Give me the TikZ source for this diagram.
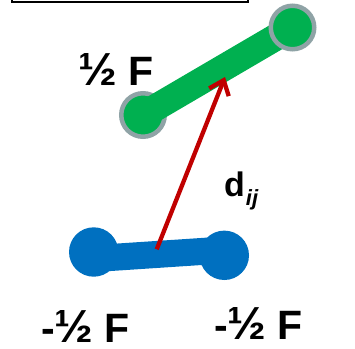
\documentclass[tikz,border=0pt]{standalone}
\usepackage{fontspec}
\setmainfont{Liberation Sans}
\usetikzlibrary{arrows.meta}
\definecolor{grn}{HTML}{00B050}
\definecolor{ringgray}{HTML}{8FA3A6}
\definecolor{blu}{HTML}{0070C0}
\definecolor{rd}{HTML}{C00000}
\newcommand{\hlf}{\scalebox{1.13}{½}}
\tikzset{
  gball/.style={circle, fill=grn, draw=ringgray, line width=4.5pt, minimum size=43.5pt, inner sep=0pt},
  bball/.style={circle, fill=blu, minimum size=49.4pt, inner sep=0pt},
  gbar/.style={grn, line width=27pt},
  bbar/.style={blu, line width=27pt},
  darrow/.style={rd, line width=4.3pt, -{Straight Barb[length=13pt,width=21pt]}},
  lbl/.style={inner sep=0pt, anchor=base west, font=\bfseries\fontsize{41}{41}\selectfont},
}
\begin{document}
\begin{tikzpicture}[x=1pt,y=-1pt]
\useasboundingbox (0,0) rectangle (355,348);
\clip (0,0) rectangle (355,348);
% top box (cut off)
\node[draw=black, line width=1.5pt, minimum width=236pt, minimum height=30pt, inner sep=0pt, anchor=south west] (box) at (11,2.5) {};
% green dumbbell
\coordinate (pg1) at (143,115);
\coordinate (pg2) at (292.5,27.5);
\node[gball] (g1) at (pg1) {};
\draw[gbar] (pg1) -- (pg2);
\node[gball] (g2) at (pg2) {};
% blue dumbbell
\coordinate (pb1) at (93.7,252);
\coordinate (pb2) at (224.3,255.3);
\node[bball] (b1) at (pb1) {};
\node[bball] (b2) at (pb2) {};
\coordinate (bb1) at (94,258.6);
\coordinate (bb2) at (224,250);
\draw[bbar] (bb1) -- (bb2);
% red arrow
\coordinate (rs) at (156.7,249.3);
\coordinate (rt) at (225,77);
\draw[darrow] (rs) -- (rt);
% labels
\node[lbl] (lhalf) at (78,85) {\hlf{} F};
\node[lbl] (lb1) at (41,342) {-\hlf{} F};
\node[lbl] (lb2) at (214,339.5) {-\hlf{} F};
\node[inner sep=0pt, anchor=base west] (dij) at (224,196.7)
  {\bfseries\fontsize{34}{34}\selectfont d\hspace{1pt}\raisebox{-8.5pt}{\fontsize{22}{22}\selectfont\itshape ij}};
\end{tikzpicture}
\end{document}
